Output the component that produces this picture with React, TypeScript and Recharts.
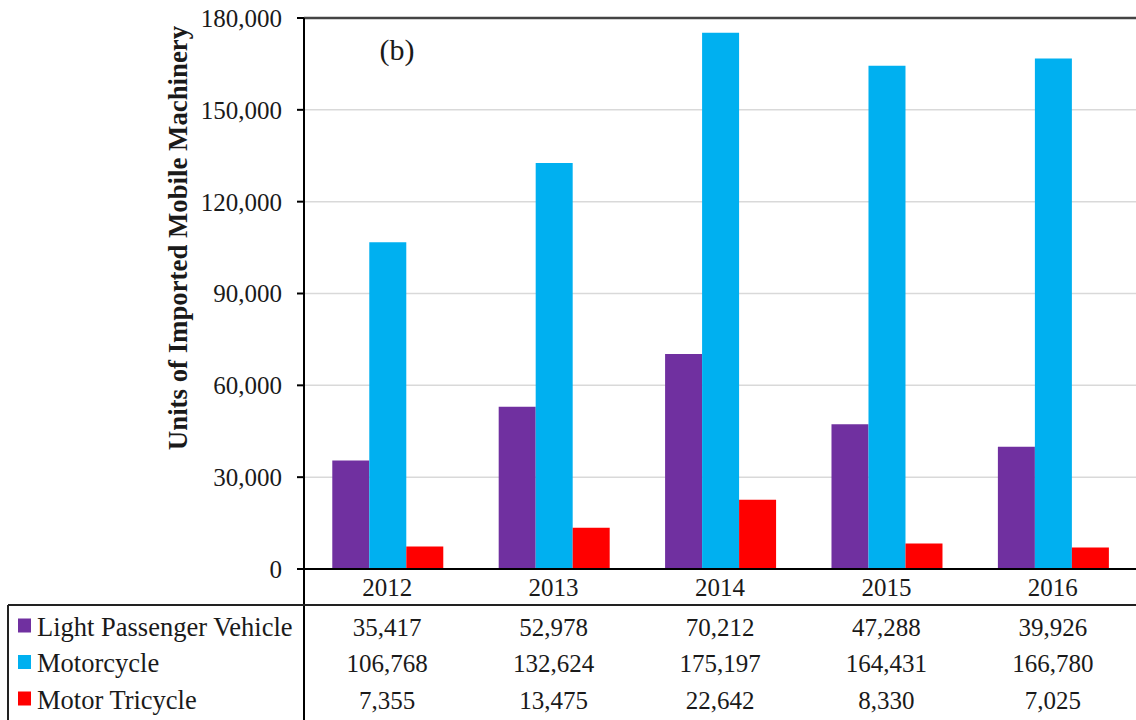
import React from 'react';
import { BarChart, Bar, XAxis, YAxis, CartesianGrid, Customized, ReferenceLine } from 'recharts';

const years = ['2012', '2013', '2014', '2015', '2016'];
const lightPassengerVehicle = [35417, 52978, 70212, 47288, 39926];
const motorcycle = [106768, 132624, 175197, 164431, 166780];
const motorTricycle = [7355, 13475, 22642, 8330, 7025];
const seriesNames = ['Light Passenger Vehicle', 'Motorcycle', 'Motor Tricycle'];
const seriesKeys = ['lpv', 'moto', 'tri'];
const seriesColors = ['#7030A0', '#00B0F0', '#FF0000'];
const yTicks = [0, 30000, 60000, 90000, 120000, 150000, 180000];
const yLabel = 'Units of Imported Mobile Machinery';
const panelTag = '(b)';

const seriesValues = [lightPassengerVehicle, motorcycle, motorTricycle];
const data = years.map((y, i) => ({
  year: y,
  lpv: lightPassengerVehicle[i],
  moto: motorcycle[i],
  tri: motorTricycle[i],
}));

const FONT = '"Liberation Serif", "Times New Roman", serif';
const FS = 25;
const W = 1136;
const H = 720;
const PLOT_LEFT = 304;
const PLOT_TOP = 18;
const XAXIS_H = 151;
const ROW_Y = [66.5, 103, 139.5];
const fmt = (v: number) => v.toLocaleString('en-US');
const txt = { fontFamily: FONT, fontSize: FS, fill: '#1a1a1a' } as const;

const XTick = (props: any) => {
  const { x, y, payload, index } = props;
  const idx = typeof index === 'number' ? index : years.indexOf(payload.value);
  return (
    <g>
      <text x={x} y={y + 27} textAnchor="middle" style={txt}>
        {payload.value}
      </text>
      {seriesValues.map((vals, r) => (
        <text key={r} x={x} y={y + ROW_Y[r]} textAnchor="middle" style={txt}>
          {fmt(vals[idx])}
        </text>
      ))}
    </g>
  );
};

const Decor = () => {
  const axisY = H - XAXIS_H;
  return (
    <g>
      <line x1={PLOT_LEFT} y1={axisY} x2={PLOT_LEFT} y2={H} stroke="#000" strokeWidth={2} />
      <line x1={8} y1={axisY + 36} x2={W} y2={axisY + 36} stroke="#222" strokeWidth={2} />
      <line x1={8} y1={axisY + 36} x2={8} y2={H} stroke="#222" strokeWidth={2} />
      {seriesNames.map((n, r) => (
        <g key={n}>
          <rect x={18} y={axisY + ROW_Y[r] - 17} width={13} height={14} fill={seriesColors[r]} />
          <text x={37} y={axisY + ROW_Y[r]} style={{ ...txt, fontSize: 26.5 }}>
            {n}
          </text>
        </g>
      ))}
      <text
        x={187}
        y={238}
        transform="rotate(-90 187 238)"
        textAnchor="middle"
        style={{ ...txt, fontSize: 26.8, fontWeight: 'bold' }}
      >
        {yLabel}
      </text>
      <text x={397} y={60} textAnchor="middle" style={{ ...txt, fontSize: 30 }}>
        {panelTag}
      </text>
    </g>
  );
};

export default function App() {
  return (
    <div style={{ position: 'absolute', left: 0, top: 0, width: W, height: H, background: '#fff' }}>
      <BarChart
        width={W}
        height={H}
        data={data}
        margin={{ top: PLOT_TOP, right: 0, bottom: 0, left: PLOT_LEFT - 100 }}
        barCategoryGap="17%"
        barGap={0}
      >
        <CartesianGrid horizontal vertical={false} stroke="#d9d9d9" strokeWidth={1.5} />
        <YAxis
          width={100}
          domain={[0, 180000]}
          ticks={yTicks}
          tickFormatter={fmt}
          tick={txt}
          tickSize={7}
          tickMargin={15}
          axisLine={{ stroke: '#000', strokeWidth: 2 }}
          tickLine={{ stroke: '#000', strokeWidth: 2 }}
          interval={0}
        />
        <XAxis
          dataKey="year"
          height={XAXIS_H}
          tickLine={false}
          tickSize={0}
          tickMargin={0}
          axisLine={{ stroke: '#000', strokeWidth: 2 }}
          tick={<XTick />}
          interval={0}
        />
        <ReferenceLine y={180000} stroke="#444" strokeWidth={2.5} />
        {seriesKeys.map((k, i) => (
          <Bar key={k} dataKey={k} name={seriesNames[i]} fill={seriesColors[i]} isAnimationActive={false} />
        ))}
        <Customized component={<Decor />} />
      </BarChart>
    </div>
  );
}
